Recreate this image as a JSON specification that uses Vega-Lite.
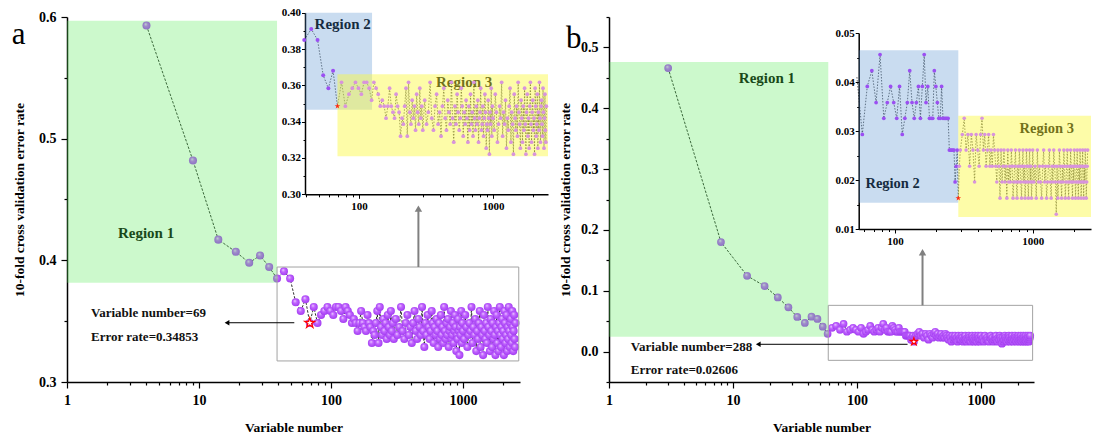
{
"$schema": "https://vega.github.io/schema/vega-lite/v6.json",
"padding": {"left": 11, "top": 6, "right": 3, "bottom": 3},
"background": "white",
"config": {"view": {"stroke": null}, "axis": {"labelFont": "Liberation Serif", "titleFont": "Liberation Serif", "labelFontWeight": "bold", "titleFontWeight": "bold", "labelColor": "#000", "titleColor": "#000", "domainColor": "#000", "tickColor": "#000", "grid": false}},
"datasets": {
"pa": [{"v":4,"e":0.593},{"v":9,"e":0.482},{"v":14,"e":0.417},{"v":19,"e":0.407},{"v":24,"e":0.398},{"v":29,"e":0.404},{"v":34,"e":0.3945},{"v":39,"e":0.385},{"v":44,"e":0.391},{"v":49,"e":0.385},{"v":54,"e":0.3655},{"v":59,"e":0.3584},{"v":64,"e":0.368},{"v":69,"e":0.34853},
{"v":74,"e":0.3617},{"v":79,"e":0.3485},{"v":84,"e":0.3551},{"v":89,"e":0.3584},{"v":94,"e":0.3617},{"v":99,"e":0.3584},{"v":104,"e":0.3551},{"v":109,"e":0.3617},{"v":114,"e":0.3617},{"v":119,"e":0.3584},{"v":124,"e":0.3518},{"v":129,"e":0.3617},{"v":134,"e":0.3584},{"v":139,"e":0.3551},{"v":144,"e":0.3485},{"v":149,"e":0.3518},{"v":154,"e":0.3485},{"v":159,"e":0.3419},{"v":164,"e":0.3485},{"v":169,"e":0.3584},{"v":174,"e":0.3485},{"v":179,"e":0.3452},{"v":184,"e":0.3419},{"v":189,"e":0.3551},{"v":194,"e":0.3485},{"v":199,"e":0.3452},{"v":204,"e":0.332},{"v":209,"e":0.3419},{"v":214,"e":0.3386},{"v":219,"e":0.3485},{"v":224,"e":0.3584},{"v":229,"e":0.332},{"v":234,"e":0.3617},{"v":239,"e":0.3452},{"v":244,"e":0.3386},{"v":249,"e":0.3518},{"v":254,"e":0.3419},{"v":259,"e":0.3485},{"v":264,"e":0.3353},{"v":269,"e":0.3551},{"v":274,"e":0.3452},{"v":279,"e":0.3386},{"v":284,"e":0.3584},{"v":289,"e":0.3419},{"v":294,"e":0.3485},{"v":299,"e":0.3353},
{"v":309,"e":0.3518},{"v":319,"e":0.3386},{"v":329,"e":0.3452},{"v":339,"e":0.3617},{"v":349,"e":0.3419},{"v":359,"e":0.3353},{"v":369,"e":0.3485},{"v":379,"e":0.3551},{"v":389,"e":0.3386},{"v":399,"e":0.3452},{"v":409,"e":0.332},{"v":419,"e":0.3485},{"v":429,"e":0.3584},{"v":439,"e":0.3419},{"v":449,"e":0.3353},{"v":459,"e":0.3518},{"v":469,"e":0.3452},{"v":479,"e":0.3386},{"v":489,"e":0.3617},{"v":499,"e":0.3419},{"v":509,"e":0.3287},{"v":519,"e":0.3485},{"v":529,"e":0.3386},{"v":539,"e":0.3551},{"v":549,"e":0.3452},{"v":559,"e":0.3353},{"v":569,"e":0.3419},{"v":579,"e":0.3584},{"v":589,"e":0.3485},{"v":599,"e":0.332},{"v":609,"e":0.3452},{"v":619,"e":0.3386},{"v":629,"e":0.3518},{"v":639,"e":0.3419},{"v":649,"e":0.3287},{"v":659,"e":0.3485},{"v":669,"e":0.3353},{"v":679,"e":0.3551},{"v":689,"e":0.3386},{"v":699,"e":0.3452},{"v":709,"e":0.332},{"v":719,"e":0.3617},{"v":729,"e":0.3419},{"v":739,"e":0.3353},{"v":749,"e":0.3485},{"v":759,"e":0.3386},{"v":769,"e":0.3518},{"v":779,"e":0.3287},{"v":789,"e":0.3419},{"v":799,"e":0.3452},{"v":809,"e":0.3584},{"v":819,"e":0.3353},{"v":829,"e":0.3386},{"v":839,"e":0.3485},{"v":849,"e":0.332},{"v":859,"e":0.3419},{"v":869,"e":0.3551},{"v":879,"e":0.3452},{"v":889,"e":0.3254},{"v":899,"e":0.3386},{"v":909,"e":0.3353},{"v":919,"e":0.3518},{"v":929,"e":0.3419},{"v":939,"e":0.3221},{"v":949,"e":0.3452},{"v":959,"e":0.3386},{"v":969,"e":0.3584},{"v":979,"e":0.332},{"v":989,"e":0.3485},{"v":999,"e":0.3419},
{"v":1019,"e":0.3353},{"v":1039,"e":0.3551},{"v":1059,"e":0.3452},{"v":1079,"e":0.3287},{"v":1099,"e":0.3386},{"v":1119,"e":0.3485},{"v":1139,"e":0.3419},{"v":1159,"e":0.3617},{"v":1179,"e":0.332},{"v":1199,"e":0.3452},{"v":1219,"e":0.3386},{"v":1239,"e":0.3518},{"v":1259,"e":0.3254},{"v":1279,"e":0.3419},{"v":1299,"e":0.3353},{"v":1319,"e":0.3485},{"v":1339,"e":0.3584},{"v":1359,"e":0.3287},{"v":1379,"e":0.3452},{"v":1399,"e":0.3386},{"v":1419,"e":0.3221},{"v":1439,"e":0.3551},{"v":1459,"e":0.3419},{"v":1479,"e":0.3353},{"v":1499,"e":0.3485},{"v":1519,"e":0.332},{"v":1539,"e":0.3617},{"v":1559,"e":0.3452},{"v":1579,"e":0.3386},{"v":1599,"e":0.3254},{"v":1619,"e":0.3518},{"v":1639,"e":0.3419},{"v":1659,"e":0.3287},{"v":1679,"e":0.3485},{"v":1699,"e":0.3353},{"v":1719,"e":0.3584},{"v":1739,"e":0.3386},{"v":1759,"e":0.3221},{"v":1779,"e":0.3452},{"v":1799,"e":0.3551},{"v":1819,"e":0.332},{"v":1839,"e":0.3419},{"v":1859,"e":0.3254},{"v":1879,"e":0.3485},{"v":1899,"e":0.3617},{"v":1919,"e":0.3386},{"v":1939,"e":0.3287},{"v":1959,"e":0.3452},{"v":1979,"e":0.3518},{"v":1999,"e":0.3353},{"v":2019,"e":0.3419},{"v":2039,"e":0.3221},{"v":2059,"e":0.3584},{"v":2079,"e":0.3485},{"v":2099,"e":0.332},{"v":2119,"e":0.3386},{"v":2139,"e":0.3551},{"v":2159,"e":0.3254},{"v":2179,"e":0.3452},{"v":2199,"e":0.3353},{"v":2219,"e":0.3617},{"v":2239,"e":0.3419},{"v":2259,"e":0.3287},{"v":2279,"e":0.3485},{"v":2299,"e":0.3518},{"v":2319,"e":0.3386},{"v":2339,"e":0.332},{"v":2359,"e":0.3584},{"v":2379,"e":0.3452},{"v":2399,"e":0.3254},{"v":2419,"e":0.3419},{"v":2439,"e":0.3551},{"v":2459,"e":0.3353},{"v":2479,"e":0.3287},{"v":2499,"e":0.3485}],
"pb": [{"v":3,"e":0.466},{"v":8,"e":0.18},{"v":13,"e":0.1246},{"v":18,"e":0.1077},{"v":23,"e":0.089},{"v":28,"e":0.0727},{"v":33,"e":0.0569},{"v":38,"e":0.047},{"v":43,"e":0.0574},{"v":48,"e":0.0536},{"v":53,"e":0.041},{"v":58,"e":0.0293},
{"v":63,"e":0.0391},{"v":68,"e":0.0423},{"v":73,"e":0.0358},{"v":78,"e":0.0456},{"v":83,"e":0.0326},{"v":88,"e":0.0358},{"v":93,"e":0.0391},{"v":98,"e":0.0358},{"v":103,"e":0.0326},{"v":108,"e":0.0391},{"v":113,"e":0.0293},{"v":118,"e":0.0326},{"v":123,"e":0.0358},{"v":128,"e":0.0423},{"v":133,"e":0.0358},{"v":138,"e":0.0326},{"v":143,"e":0.0358},{"v":148,"e":0.0391},{"v":153,"e":0.0326},{"v":158,"e":0.0391},{"v":163,"e":0.0456},{"v":168,"e":0.0358},{"v":173,"e":0.0391},{"v":178,"e":0.0326},{"v":183,"e":0.0326},{"v":188,"e":0.0326},{"v":193,"e":0.0423},{"v":198,"e":0.0391},{"v":203,"e":0.0358},{"v":208,"e":0.0326},{"v":213,"e":0.0326},{"v":218,"e":0.0391},{"v":223,"e":0.0326},{"v":228,"e":0.0326},{"v":233,"e":0.0326},{"v":238,"e":0.0326},{"v":243,"e":0.0326},{"v":248,"e":0.0261},{"v":253,"e":0.0261},{"v":258,"e":0.0261},{"v":263,"e":0.0261},{"v":268,"e":0.0261},{"v":273,"e":0.0196},{"v":278,"e":0.0228},{"v":283,"e":0.0261},{"v":288,"e":0.0163},
{"v":293,"e":0.0228},{"v":298,"e":0.0261},{"v":308,"e":0.0293},{"v":318,"e":0.0326},{"v":328,"e":0.0261},{"v":338,"e":0.0293},{"v":348,"e":0.0228},{"v":358,"e":0.0293},{"v":368,"e":0.0261},{"v":378,"e":0.0196},{"v":388,"e":0.0293},{"v":398,"e":0.0261},{"v":408,"e":0.0228},{"v":418,"e":0.0293},{"v":428,"e":0.0326},{"v":438,"e":0.0261},{"v":448,"e":0.0293},{"v":458,"e":0.0228},{"v":468,"e":0.0261},{"v":478,"e":0.0293},{"v":488,"e":0.0228},{"v":498,"e":0.0261},{"v":508,"e":0.0228},{"v":518,"e":0.0293},{"v":528,"e":0.0261},{"v":538,"e":0.0228},{"v":548,"e":0.0196},{"v":558,"e":0.0261},{"v":568,"e":0.0228},{"v":578,"e":0.0163},{"v":588,"e":0.0261},{"v":598,"e":0.0196},{"v":608,"e":0.0228},{"v":618,"e":0.0261},{"v":628,"e":0.0196},{"v":638,"e":0.0228},{"v":648,"e":0.0163},{"v":658,"e":0.0261},{"v":668,"e":0.0196},{"v":678,"e":0.0228},{"v":688,"e":0.0196},{"v":698,"e":0.0261},{"v":708,"e":0.0228},{"v":718,"e":0.0163},{"v":728,"e":0.0196},{"v":738,"e":0.0228},{"v":748,"e":0.0261},{"v":758,"e":0.0196},{"v":768,"e":0.0163},{"v":778,"e":0.0228},{"v":788,"e":0.0196},{"v":798,"e":0.0261},{"v":808,"e":0.0228},{"v":818,"e":0.0196},{"v":828,"e":0.0163},{"v":838,"e":0.0228},{"v":848,"e":0.0261},{"v":858,"e":0.0196},{"v":868,"e":0.0228},{"v":878,"e":0.0163},{"v":888,"e":0.0196},{"v":898,"e":0.0261},{"v":908,"e":0.0228},{"v":918,"e":0.0196},{"v":928,"e":0.0163},{"v":938,"e":0.0228},{"v":948,"e":0.0261},{"v":958,"e":0.0196},{"v":968,"e":0.0228},{"v":978,"e":0.0163},{"v":988,"e":0.0196},{"v":998,"e":0.0261},
{"v":1018,"e":0.0196},{"v":1038,"e":0.0228},{"v":1058,"e":0.0163},{"v":1078,"e":0.0261},{"v":1098,"e":0.0196},{"v":1118,"e":0.0228},{"v":1138,"e":0.0196},{"v":1158,"e":0.0163},{"v":1178,"e":0.0228},{"v":1198,"e":0.0261},{"v":1218,"e":0.0196},{"v":1238,"e":0.0228},{"v":1258,"e":0.0163},{"v":1278,"e":0.0196},{"v":1298,"e":0.0228},{"v":1318,"e":0.0261},{"v":1338,"e":0.0196},{"v":1358,"e":0.0163},{"v":1378,"e":0.0228},{"v":1398,"e":0.0196},{"v":1418,"e":0.0261},{"v":1438,"e":0.0228},{"v":1458,"e":0.0196},{"v":1478,"e":0.013},{"v":1498,"e":0.0228},{"v":1518,"e":0.0163},{"v":1538,"e":0.0196},{"v":1558,"e":0.0261},{"v":1578,"e":0.0228},{"v":1598,"e":0.0196},{"v":1618,"e":0.0163},{"v":1638,"e":0.0228},{"v":1658,"e":0.0196},{"v":1678,"e":0.0261},{"v":1698,"e":0.0228},{"v":1718,"e":0.0163},{"v":1738,"e":0.0196},{"v":1758,"e":0.0228},{"v":1778,"e":0.0261},{"v":1798,"e":0.0196},{"v":1818,"e":0.0163},{"v":1838,"e":0.0228},{"v":1858,"e":0.0196},{"v":1878,"e":0.0261},{"v":1898,"e":0.0228},{"v":1918,"e":0.0196},{"v":1938,"e":0.0163},{"v":1958,"e":0.0228},{"v":1978,"e":0.0196},{"v":1998,"e":0.0261},{"v":2018,"e":0.0228},{"v":2038,"e":0.0163},{"v":2058,"e":0.0196},{"v":2078,"e":0.0228},{"v":2098,"e":0.0261},{"v":2118,"e":0.0196},{"v":2138,"e":0.0163},{"v":2158,"e":0.0228},{"v":2178,"e":0.0196},{"v":2198,"e":0.0261},{"v":2218,"e":0.0228},{"v":2238,"e":0.0163},{"v":2258,"e":0.0196},{"v":2278,"e":0.0228},{"v":2298,"e":0.0261},{"v":2318,"e":0.0196},{"v":2338,"e":0.0163},{"v":2358,"e":0.0228},{"v":2378,"e":0.0196},{"v":2398,"e":0.0261},{"v":2418,"e":0.0228},{"v":2438,"e":0.0163},{"v":2458,"e":0.0196},{"v":2478,"e":0.0228},{"v":2498,"e":0.0261}]
},
"spacing": 89,
"bounds": "flush",
"hconcat": [
{
"width": 453, "height": 365,
"resolve": {"scale": {"x": "independent", "y": "independent"}},
"layer": [
{"resolve": {"axis": {"x": "independent", "y": "independent"}},
 "layer": [
{"data": {"values": [{"v": 3.97, "e": 0.4227, "t": "Region 1"}]}, "mark": {"type": "text", "font": "Liberation Serif", "fontWeight": "bold", "fontSize": 15, "color": "#000", "align": "center", "baseline": "middle"},
 "encoding": {"x": {"field": "v", "type": "quantitative", "scale": {"type": "log", "domain": [1, 2700], "nice": false}, "axis": null}, "y": {"field": "e", "type": "quantitative", "scale": {"domain": [0.3, 0.6], "nice": false, "zero": false}, "axis": null}, "text": {"field": "t"}}},
{"data": {"name": "pa"}, "mark": {"type": "line", "color": "#1a1a1a", "strokeWidth": 0.9, "strokeDash": [2.5, 1.5]},
 "encoding": {"x": {"field": "v", "type": "quantitative", "scale": {"type": "log", "domain": [1, 2700], "nice": false},
   "axis": {"orient": "bottom", "title": "Variable number", "titleFontSize": 13.5, "titlePadding": 13, "labelFontSize": 14, "labelPadding": 5, "domainWidth": 1.5, "tickWidth": 1.2, "tickSize": 6, "labelOverlap": false, "labelFlush": false, "values": [1, 10, 100, 1000], "format": "d"}},
  "y": {"field": "e", "type": "quantitative", "scale": {"domain": [0.3, 0.6], "nice": false, "zero": false},
   "axis": {"orient": "left", "title": "10-fold cross validation error rate", "titleFontSize": 13.5, "titlePadding": 12, "labelFontSize": 14, "labelPadding": 5, "domainWidth": 1.5, "tickWidth": 1.2, "tickSize": 6, "labelOverlap": false, "labelFlush": false, "values": [0.3, 0.4, 0.5, 0.6], "format": ".1f"}}}},
{"data": {"name": "pa"}, "mark": {"type": "point", "filled": true, "size": 65, "opacity": 1, "strokeWidth": 0,
   "fill": {"gradient": "radial", "x1": 0.38, "y1": 0.32, "r1": 0, "x2": 0.5, "y2": 0.5, "r2": 0.6, "stops": [{"offset": 0, "color": "#f0d8ff"}, {"offset": 0.35, "color": "#c266ff"}, {"offset": 0.85, "color": "#a53ff2"}, {"offset": 1, "color": "#8a2fd6"}]}},
 "encoding": {"x": {"field": "v", "type": "quantitative", "scale": {"type": "log", "domain": [1, 2700], "nice": false},
   "axis": {"orient": "bottom", "title": null, "labels": false, "domain": false, "tickSize": 3, "tickWidth": 1.2, "values": [2,3,4,5,6,7,8,9,20,30,40,50,60,70,80,90,200,300,400,500,600,700,800,900,2000]}},
  "y": {"field": "e", "type": "quantitative", "scale": {"domain": [0.3, 0.6], "nice": false, "zero": false},
   "axis": {"orient": "left", "title": null, "labels": false, "domain": false, "tickSize": 3, "tickWidth": 1.2, "values": [0.35, 0.45, 0.55]}}}},
{"data": {"values": [{"x0": 1, "x1": 39, "y0": 0.3816, "y1": 0.597}]}, "mark": {"type": "rect", "color": "#55eb55", "opacity": 0.3},
 "encoding": {"x": {"field": "x0", "type": "quantitative", "scale": {"type": "log", "domain": [1, 2700], "nice": false}, "axis": null}, "x2": {"field": "x1"}, "y": {"field": "y0", "type": "quantitative", "scale": {"domain": [0.3, 0.6], "nice": false, "zero": false}, "axis": null}, "y2": {"field": "y1"}}},
{"data": {"values": [{"x0": 39, "x1": 2642, "y0": 0.3173, "y1": 0.3945}]}, "mark": {"type": "rect", "fillOpacity": 0, "stroke": "#a3a3a3", "strokeWidth": 1},
 "encoding": {"x": {"field": "x0", "type": "quantitative", "scale": {"type": "log", "domain": [1, 2700], "nice": false}, "axis": null}, "x2": {"field": "x1"}, "y": {"field": "y0", "type": "quantitative", "scale": {"domain": [0.3, 0.6], "nice": false, "zero": false}, "axis": null}, "y2": {"field": "y1"}}},
{"data": {"values": [{"v": 459, "y0": 0.3945, "y1": 0.4405}]}, "mark": {"type": "rule", "color": "#808080", "strokeWidth": 2},
 "encoding": {"x": {"field": "v", "type": "quantitative", "scale": {"type": "log", "domain": [1, 2700], "nice": false}, "axis": null}, "y": {"field": "y0", "type": "quantitative", "scale": {"domain": [0.3, 0.6], "nice": false, "zero": false}, "axis": null}, "y2": {"field": "y1"}}},
{"data": {"values": [{"v": 459, "e": 0.4425}]}, "mark": {"type": "point", "shape": "triangle-up", "filled": true, "size": 55, "color": "#808080", "opacity": 1},
 "encoding": {"x": {"field": "v", "type": "quantitative", "scale": {"type": "log", "domain": [1, 2700], "nice": false}, "axis": null}, "y": {"field": "e", "type": "quantitative", "scale": {"domain": [0.3, 0.6], "nice": false, "zero": false}, "axis": null}}},
{"data": {"values": [{"x0": 16.5, "x1": 52.7, "e": 0.3487}]}, "mark": {"type": "rule", "color": "#000", "strokeWidth": 1},
 "encoding": {"x": {"field": "x0", "type": "quantitative", "scale": {"type": "log", "domain": [1, 2700], "nice": false}, "axis": null}, "x2": {"field": "x1"}, "y": {"field": "e", "type": "quantitative", "scale": {"domain": [0.3, 0.6], "nice": false, "zero": false}, "axis": null}}},
{"data": {"values": [{"v": 16.3, "e": 0.3487}]}, "mark": {"type": "point", "shape": "triangle-left", "filled": true, "size": 30, "color": "#000", "opacity": 1},
 "encoding": {"x": {"field": "v", "type": "quantitative", "scale": {"type": "log", "domain": [1, 2700], "nice": false}, "axis": null}, "y": {"field": "e", "type": "quantitative", "scale": {"domain": [0.3, 0.6], "nice": false, "zero": false}, "axis": null}}},
{"data": {"values": [{"v": 1.52, "e": 0.357, "t": "Variable number=69"}, {"v": 1.52, "e": 0.337, "t": "Error rate=0.34853"}]}, "mark": {"type": "text", "font": "Liberation Serif", "fontWeight": "bold", "fontSize": 13, "color": "#111", "align": "left", "baseline": "middle"},
 "encoding": {"x": {"field": "v", "type": "quantitative", "scale": {"type": "log", "domain": [1, 2700], "nice": false}, "axis": null}, "y": {"field": "e", "type": "quantitative", "scale": {"domain": [0.3, 0.6], "nice": false, "zero": false}, "axis": null}, "text": {"field": "t"}}},
{"data": {"name": "pa"}, "transform": [{"filter": "datum.v == 69"}], "mark": {"type": "point", "shape": "M0,-1L0.2245,-0.309L0.951,-0.309L0.363,0.118L0.588,0.809L0,0.382L-0.588,0.809L-0.363,0.118L-0.951,-0.309L-0.2245,-0.309Z", "size": 110, "fill": "#ffffff", "stroke": "#ff0000", "strokeWidth": 1.3, "opacity": 1},
 "encoding": {"x": {"field": "v", "type": "quantitative", "scale": {"type": "log", "domain": [1, 2700], "nice": false}, "axis": null}, "y": {"field": "e", "type": "quantitative", "scale": {"domain": [0.3, 0.6], "nice": false, "zero": false}, "axis": null}}},
{"data": {"values": [{"v": 0.43, "e": 0.578, "t": "a"}]}, "mark": {"type": "text", "font": "Liberation Serif", "fontSize": 31, "color": "#000", "align": "center", "baseline": "alphabetic"},
 "encoding": {"x": {"field": "v", "type": "quantitative", "scale": {"type": "log", "domain": [1, 2700], "nice": false}, "axis": null}, "y": {"field": "e", "type": "quantitative", "scale": {"domain": [0.3, 0.6], "nice": false, "zero": false}, "axis": null}, "text": {"field": "t"}}}
]},
{"resolve": {"axis": {"x": "independent", "y": "independent"}},
 "layer": [
{"data": {"values": [{"v": 75.5, "e": 0.394, "t": "Region 2"}, {"v": 608, "e": 0.3618, "t": "Region 3"}]}, "mark": {"type": "text", "font": "Liberation Serif", "fontWeight": "bold", "fontSize": 15, "color": "#000", "align": "center", "baseline": "middle"},
 "encoding": {"x": {"field": "v", "type": "quantitative", "scale": {"type": "log", "domain": [39.5, 2570], "range": [238, 481], "nice": false}, "axis": null}, "y": {"field": "e", "type": "quantitative", "scale": {"domain": [0.3, 0.4], "range": [177.3, -4.3], "nice": false, "zero": false}, "axis": null}, "text": {"field": "t"}}},
{"data": {"name": "pa"}, "transform": [{"filter": "datum.v >= 39"}], "mark": {"type": "line", "color": "#000", "strokeWidth": 0.6, "strokeDash": [1.5, 1.5]},
 "encoding": {"x": {"field": "v", "type": "quantitative", "scale": {"type": "log", "domain": [39.5, 2570], "range": [238, 481], "nice": false},
   "axis": {"orient": "bottom", "offset": -187.7, "title": null, "labelFontSize": 11, "labelPadding": 2, "domainWidth": 1.5, "tickWidth": 1, "tickSize": 4, "labelOverlap": false, "labelFlush": false, "values": [100, 1000], "format": "d"}},
  "y": {"field": "e", "type": "quantitative", "scale": {"domain": [0.3, 0.4], "range": [177.3, -4.3], "nice": false, "zero": false},
   "axis": {"orient": "left", "offset": -238, "title": null, "labelFontSize": 11, "labelPadding": 1, "domainWidth": 1.5, "tickWidth": 1, "tickSize": 3.5, "labelOverlap": false, "labelFlush": false, "values": [0.3, 0.32, 0.34, 0.36, 0.38, 0.4], "format": ".2f"}}}},
{"data": {"values": [{"x0": 39.5, "x1": 125, "y0": 0.3466, "y1": 0.4, "c": "b"}, {"x0": 69, "x1": 2570, "y0": 0.3209, "y1": 0.3661, "c": "y"}]}, "mark": {"type": "rect"},
 "encoding": {"x": {"field": "x0", "type": "quantitative", "scale": {"type": "log", "domain": [39.5, 2570], "range": [238, 481], "nice": false}, "axis": null}, "x2": {"field": "x1"}, "y": {"field": "y0", "type": "quantitative", "scale": {"domain": [0.3, 0.4], "range": [177.3, -4.3], "nice": false, "zero": false}, "axis": null}, "y2": {"field": "y1"},
  "color": {"field": "c", "type": "nominal", "scale": {"domain": ["b", "y"], "range": ["#4b8acd", "#faf83e"]}, "legend": null},
  "opacity": {"field": "c", "type": "nominal", "scale": {"domain": ["b", "y"], "range": [0.3, 0.45]}, "legend": null}}},
{"data": {"name": "pa"}, "transform": [{"filter": "datum.v >= 39 && datum.v < 69"}], "mark": {"type": "point", "filled": true, "size": 16, "color": "#9b4ff2", "opacity": 1},
 "encoding": {"x": {"field": "v", "type": "quantitative", "scale": {"type": "log", "domain": [39.5, 2570], "range": [238, 481], "nice": false}, "axis": null}, "y": {"field": "e", "type": "quantitative", "scale": {"domain": [0.3, 0.4], "range": [177.3, -4.3], "nice": false, "zero": false}, "axis": null}}},
{"data": {"name": "pa"}, "transform": [{"filter": "datum.v > 69"}], "mark": {"type": "point", "filled": true, "size": 14, "color": "#d894dc", "opacity": 1},
 "encoding": {"x": {"field": "v", "type": "quantitative", "scale": {"type": "log", "domain": [39.5, 2570], "range": [238, 481], "nice": false},
   "axis": {"orient": "bottom", "offset": -187.7, "title": null, "labels": false, "domain": false, "tickSize": 2.5, "tickWidth": 1, "values": [40,50,60,70,80,90,200,300,400,500,600,700,800,900,2000]}},
  "y": {"field": "e", "type": "quantitative", "scale": {"domain": [0.3, 0.4], "range": [177.3, -4.3], "nice": false, "zero": false},
   "axis": {"orient": "left", "offset": -238, "title": null, "labels": false, "domain": false, "tickSize": 2, "tickWidth": 1, "values": [0.31, 0.33, 0.35, 0.37, 0.39]}}}},
{"data": {"name": "pa"}, "transform": [{"filter": "datum.v == 69"}], "mark": {"type": "point", "shape": "M0,-1L0.2245,-0.309L0.951,-0.309L0.363,0.118L0.588,0.809L0,0.382L-0.588,0.809L-0.363,0.118L-0.951,-0.309L-0.2245,-0.309Z", "filled": true, "size": 35, "color": "#ff2a10", "opacity": 1},
 "encoding": {"x": {"field": "v", "type": "quantitative", "scale": {"type": "log", "domain": [39.5, 2570], "range": [238, 481], "nice": false}, "axis": null}, "y": {"field": "e", "type": "quantitative", "scale": {"domain": [0.3, 0.4], "range": [177.3, -4.3], "nice": false, "zero": false}, "axis": null}}}
]}
]
},
{
"width": 425, "height": 365,
"resolve": {"scale": {"x": "independent", "y": "independent"}},
"layer": [
{"resolve": {"axis": {"x": "independent", "y": "independent"}},
 "layer": [
{"data": {"values": [{"v": 18.8, "e": 0.45, "t": "Region 1"}]}, "mark": {"type": "text", "font": "Liberation Serif", "fontWeight": "bold", "fontSize": 15, "color": "#000", "align": "center", "baseline": "middle"},
 "encoding": {"x": {"field": "v", "type": "quantitative", "scale": {"type": "log", "domain": [1, 2680], "nice": false}, "axis": null}, "y": {"field": "e", "type": "quantitative", "scale": {"domain": [-0.05, 0.55], "nice": false, "zero": false}, "axis": null}, "text": {"field": "t"}}},
{"data": {"name": "pb"}, "mark": {"type": "line", "color": "#1a1a1a", "strokeWidth": 0.9, "strokeDash": [2.5, 1.5]},
 "encoding": {"x": {"field": "v", "type": "quantitative", "scale": {"type": "log", "domain": [1, 2680], "nice": false},
   "axis": {"orient": "bottom", "title": "Variable number", "titleFontSize": 13.5, "titlePadding": 13, "labelFontSize": 14, "labelPadding": 5, "domainWidth": 1.5, "tickWidth": 1.2, "tickSize": 6, "labelOverlap": false, "labelFlush": false, "values": [1, 10, 100, 1000], "format": "d"}},
  "y": {"field": "e", "type": "quantitative", "scale": {"domain": [-0.05, 0.55], "nice": false, "zero": false},
   "axis": {"orient": "left", "title": "10-fold cross validation error rate", "titleFontSize": 13.5, "titlePadding": 8, "labelFontSize": 14, "labelPadding": 5, "domainWidth": 1.5, "tickWidth": 1.2, "tickSize": 6, "labelOverlap": false, "labelFlush": false, "values": [0, 0.1, 0.2, 0.3, 0.4, 0.5], "format": ".1f"}}}},
{"data": {"name": "pb"}, "mark": {"type": "point", "filled": true, "size": 60, "opacity": 1, "strokeWidth": 0,
   "fill": {"gradient": "radial", "x1": 0.38, "y1": 0.32, "r1": 0, "x2": 0.5, "y2": 0.5, "r2": 0.6, "stops": [{"offset": 0, "color": "#f0d8ff"}, {"offset": 0.35, "color": "#c266ff"}, {"offset": 0.85, "color": "#a53ff2"}, {"offset": 1, "color": "#8a2fd6"}]}},
 "encoding": {"x": {"field": "v", "type": "quantitative", "scale": {"type": "log", "domain": [1, 2680], "nice": false},
   "axis": {"orient": "bottom", "title": null, "labels": false, "domain": false, "tickSize": 3, "tickWidth": 1.2, "values": [2,3,4,5,6,7,8,9,20,30,40,50,60,70,80,90,200,300,400,500,600,700,800,900,2000]}},
  "y": {"field": "e", "type": "quantitative", "scale": {"domain": [-0.05, 0.55], "nice": false, "zero": false},
   "axis": {"orient": "left", "title": null, "labels": false, "domain": false, "tickSize": 3, "tickWidth": 1.2, "values": [-0.05, 0.05, 0.15, 0.25, 0.35, 0.45, 0.55]}}}},
{"data": {"values": [{"x0": 1, "x1": 58.7, "y0": 0.0244, "y1": 0.476}]}, "mark": {"type": "rect", "color": "#55eb55", "opacity": 0.3},
 "encoding": {"x": {"field": "x0", "type": "quantitative", "scale": {"type": "log", "domain": [1, 2680], "nice": false}, "axis": null}, "x2": {"field": "x1"}, "y": {"field": "y0", "type": "quantitative", "scale": {"domain": [-0.05, 0.55], "nice": false, "zero": false}, "axis": null}, "y2": {"field": "y1"}}},
{"data": {"values": [{"x0": 58.7, "x1": 2612, "y0": -0.0144, "y1": 0.076}]}, "mark": {"type": "rect", "fillOpacity": 0, "stroke": "#a3a3a3", "strokeWidth": 1},
 "encoding": {"x": {"field": "x0", "type": "quantitative", "scale": {"type": "log", "domain": [1, 2680], "nice": false}, "axis": null}, "x2": {"field": "x1"}, "y": {"field": "y0", "type": "quantitative", "scale": {"domain": [-0.05, 0.55], "nice": false, "zero": false}, "axis": null}, "y2": {"field": "y1"}}},
{"data": {"values": [{"v": 338, "y0": 0.076, "y1": 0.165}]}, "mark": {"type": "rule", "color": "#808080", "strokeWidth": 2},
 "encoding": {"x": {"field": "v", "type": "quantitative", "scale": {"type": "log", "domain": [1, 2680], "nice": false}, "axis": null}, "y": {"field": "y0", "type": "quantitative", "scale": {"domain": [-0.05, 0.55], "nice": false, "zero": false}, "axis": null}, "y2": {"field": "y1"}}},
{"data": {"values": [{"v": 338, "e": 0.1633}]}, "mark": {"type": "point", "shape": "triangle-up", "filled": true, "size": 55, "color": "#808080", "opacity": 1},
 "encoding": {"x": {"field": "v", "type": "quantitative", "scale": {"type": "log", "domain": [1, 2680], "nice": false}, "axis": null}, "y": {"field": "e", "type": "quantitative", "scale": {"domain": [-0.05, 0.55], "nice": false, "zero": false}, "axis": null}}},
{"data": {"values": [{"x0": 16.3, "x1": 256, "e": 0.012}]}, "mark": {"type": "rule", "color": "#000", "strokeWidth": 1},
 "encoding": {"x": {"field": "x0", "type": "quantitative", "scale": {"type": "log", "domain": [1, 2680], "nice": false}, "axis": null}, "x2": {"field": "x1"}, "y": {"field": "e", "type": "quantitative", "scale": {"domain": [-0.05, 0.55], "nice": false, "zero": false}, "axis": null}}},
{"data": {"values": [{"v": 16.0, "e": 0.012}]}, "mark": {"type": "point", "shape": "triangle-left", "filled": true, "size": 30, "color": "#000", "opacity": 1},
 "encoding": {"x": {"field": "v", "type": "quantitative", "scale": {"type": "log", "domain": [1, 2680], "nice": false}, "axis": null}, "y": {"field": "e", "type": "quantitative", "scale": {"domain": [-0.05, 0.55], "nice": false, "zero": false}, "axis": null}}},
{"data": {"values": [{"v": 1.5, "e": 0.008, "t": "Variable number=288"}, {"v": 1.5, "e": -0.0303, "t": "Error rate=0.02606"}]}, "mark": {"type": "text", "font": "Liberation Serif", "fontWeight": "bold", "fontSize": 13, "color": "#111", "align": "left", "baseline": "middle"},
 "encoding": {"x": {"field": "v", "type": "quantitative", "scale": {"type": "log", "domain": [1, 2680], "nice": false}, "axis": null}, "y": {"field": "e", "type": "quantitative", "scale": {"domain": [-0.05, 0.55], "nice": false, "zero": false}, "axis": null}, "text": {"field": "t"}}},
{"data": {"name": "pb"}, "transform": [{"filter": "datum.v == 288"}], "mark": {"type": "point", "shape": "M0,-1L0.2245,-0.309L0.951,-0.309L0.363,0.118L0.588,0.809L0,0.382L-0.588,0.809L-0.363,0.118L-0.951,-0.309L-0.2245,-0.309Z", "size": 60, "fill": "#ffffff", "stroke": "#ff0000", "strokeWidth": 1.2, "opacity": 1},
 "encoding": {"x": {"field": "v", "type": "quantitative", "scale": {"type": "log", "domain": [1, 2680], "nice": false}, "axis": null}, "y": {"field": "e", "type": "quantitative", "scale": {"domain": [-0.05, 0.55], "nice": false, "zero": false}, "axis": null}}},
{"data": {"values": [{"v": 0.52, "e": 0.499, "t": "b"}]}, "mark": {"type": "text", "font": "Liberation Serif", "fontSize": 31, "color": "#000", "align": "center", "baseline": "alphabetic"},
 "encoding": {"x": {"field": "v", "type": "quantitative", "scale": {"type": "log", "domain": [1, 2680], "nice": false}, "axis": null}, "y": {"field": "e", "type": "quantitative", "scale": {"domain": [-0.05, 0.55], "nice": false, "zero": false}, "axis": null}, "text": {"field": "t"}}}
]},
{"resolve": {"axis": {"x": "independent", "y": "independent"}},
 "layer": [
{"data": {"values": [{"v": 96.2, "e": 0.0192, "t": "Region 2"}, {"v": 1262, "e": 0.0304, "t": "Region 3"}]}, "mark": {"type": "text", "font": "Liberation Serif", "fontWeight": "bold", "fontSize": 14.5, "color": "#000", "align": "center", "baseline": "middle"},
 "encoding": {"x": {"field": "v", "type": "quantitative", "scale": {"type": "log", "domain": [54.6, 2640], "range": [249.7, 482], "nice": false}, "axis": null}, "y": {"field": "e", "type": "quantitative", "scale": {"domain": [0.01, 0.05], "range": [212, 16], "nice": false, "zero": false}, "axis": null}, "text": {"field": "t"}}},
{"data": {"name": "pb"}, "transform": [{"filter": "datum.v >= 53"}], "mark": {"type": "line", "color": "#000", "strokeWidth": 0.6, "strokeDash": [1.5, 1.5]},
 "encoding": {"x": {"field": "v", "type": "quantitative", "scale": {"type": "log", "domain": [54.6, 2640], "range": [249.7, 482], "nice": false},
   "axis": {"orient": "bottom", "offset": -153, "title": null, "labelFontSize": 11, "labelPadding": 2, "domainWidth": 1.5, "tickWidth": 1, "tickSize": 4, "labelOverlap": false, "labelFlush": false, "values": [100, 1000], "format": "d"}},
  "y": {"field": "e", "type": "quantitative", "scale": {"domain": [0.01, 0.05], "range": [212, 16], "nice": false, "zero": false},
   "axis": {"orient": "left", "offset": -249.7, "title": null, "labelFontSize": 11, "labelPadding": 1, "domainWidth": 1.5, "tickWidth": 1, "tickSize": 3.5, "labelOverlap": false, "labelFlush": false, "values": [0.01, 0.02, 0.03, 0.04, 0.05], "format": ".2f"}}}},
{"data": {"values": [{"x0": 54.6, "x1": 288, "y0": 0.01537, "y1": 0.0465, "c": "b"}, {"x0": 288, "x1": 2640, "y0": 0.01245, "y1": 0.0331, "c": "y"}]}, "mark": {"type": "rect"},
 "encoding": {"x": {"field": "x0", "type": "quantitative", "scale": {"type": "log", "domain": [54.6, 2640], "range": [249.7, 482], "nice": false}, "axis": null}, "x2": {"field": "x1"}, "y": {"field": "y0", "type": "quantitative", "scale": {"domain": [0.01, 0.05], "range": [212, 16], "nice": false, "zero": false}, "axis": null}, "y2": {"field": "y1"},
  "color": {"field": "c", "type": "nominal", "scale": {"domain": ["b", "y"], "range": ["#4b8acd", "#faf83e"]}, "legend": null},
  "opacity": {"field": "c", "type": "nominal", "scale": {"domain": ["b", "y"], "range": [0.3, 0.45]}, "legend": null}}},
{"data": {"name": "pb"}, "transform": [{"filter": "datum.v >= 58 && datum.v < 288"}], "mark": {"type": "point", "filled": true, "size": 14, "color": "#9b4ff2", "opacity": 1},
 "encoding": {"x": {"field": "v", "type": "quantitative", "scale": {"type": "log", "domain": [54.6, 2640], "range": [249.7, 482], "nice": false}, "axis": null}, "y": {"field": "e", "type": "quantitative", "scale": {"domain": [0.01, 0.05], "range": [212, 16], "nice": false, "zero": false}, "axis": null}}},
{"data": {"name": "pb"}, "transform": [{"filter": "datum.v > 288"}], "mark": {"type": "point", "filled": true, "size": 13, "color": "#d894dc", "opacity": 1},
 "encoding": {"x": {"field": "v", "type": "quantitative", "scale": {"type": "log", "domain": [54.6, 2640], "range": [249.7, 482], "nice": false},
   "axis": {"orient": "bottom", "offset": -153, "title": null, "labels": false, "domain": false, "tickSize": 2.5, "tickWidth": 1, "values": [60,70,80,90,200,300,400,500,600,700,800,900,2000]}},
  "y": {"field": "e", "type": "quantitative", "scale": {"domain": [0.01, 0.05], "range": [212, 16], "nice": false, "zero": false},
   "axis": {"orient": "left", "offset": -249.7, "title": null, "labels": false, "domain": false, "tickSize": 2, "tickWidth": 1, "values": [0.015, 0.025, 0.035, 0.045]}}}},
{"data": {"name": "pb"}, "transform": [{"filter": "datum.v == 288"}], "mark": {"type": "point", "shape": "M0,-1L0.2245,-0.309L0.951,-0.309L0.363,0.118L0.588,0.809L0,0.382L-0.588,0.809L-0.363,0.118L-0.951,-0.309L-0.2245,-0.309Z", "filled": true, "size": 35, "color": "#ff2a10", "opacity": 1},
 "encoding": {"x": {"field": "v", "type": "quantitative", "scale": {"type": "log", "domain": [54.6, 2640], "range": [249.7, 482], "nice": false}, "axis": null}, "y": {"field": "e", "type": "quantitative", "scale": {"domain": [0.01, 0.05], "range": [212, 16], "nice": false, "zero": false}, "axis": null}}}
]}
]
}
]
}
